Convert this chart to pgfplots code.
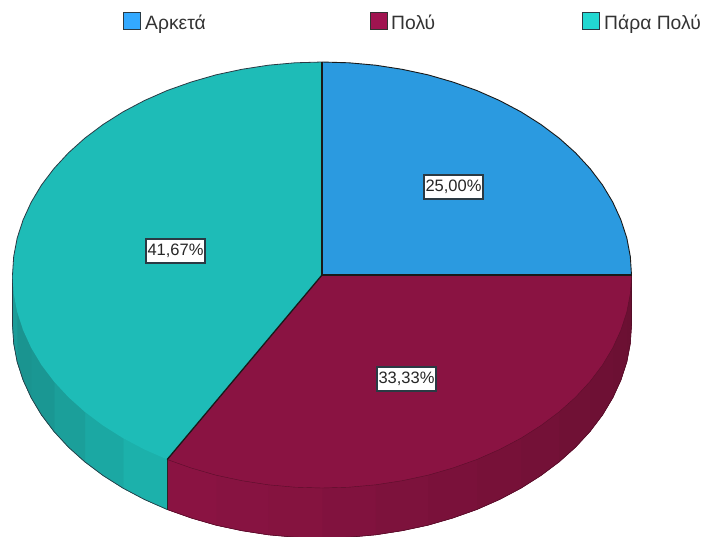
\documentclass[border=0pt]{standalone}
\usepackage{pgfplots}
\pgfplotsset{compat=1.18}
\usepackage{fontspec}
\setmainfont{Liberation Sans}
\definecolor{cblue}{HTML}{2B9AE0}
\definecolor{cmar}{HTML}{8A1342}
\definecolor{cteal}{HTML}{1EBCB7}
\definecolor{mardark}{HTML}{6A1032}
\definecolor{lblue}{HTML}{33A9FF}
\definecolor{lmar}{HTML}{A01450}
\definecolor{lteal}{HTML}{22D8D2}
\definecolor{edge}{HTML}{2A3A44}
\definecolor{t1}{HTML}{1CB1AB}
\definecolor{t2}{HTML}{1BA8A3}
\definecolor{t3}{HTML}{1B9F9A}
\definecolor{t4}{HTML}{1A9793}
\definecolor{t5}{HTML}{1A9490}
\definecolor{t6}{HTML}{1C9C98}
\pgfplotsset{band/.style={draw=#1,fill=#1,line width=0.5pt,forget plot,mark=none}}
\newcommand{\lab}[3]{\node[fill=white,draw=edge,line width=1.2pt,inner sep=0pt,minimum width=59pt,minimum height=24pt,font=\fontsize{16.5}{18}\selectfont,text=black!85] at (axis cs:#1,#2) {#3};}
\begin{document}
\begin{tikzpicture}[x=1pt,y=1pt]
\path[use as bounding box] (0,0) rectangle (704,536);
\begin{axis}[at={(0,0)},anchor=south west,width=704pt,height=536pt,scale only axis,
  xmin=0,xmax=704,ymin=0,ymax=536,y dir=reverse,hide axis,clip=true]
% underlays so that no seam shows between the bands
\addplot[fill=cmar!50!mardark,draw=none,forget plot] coordinates {(631.5,275)(631.5,325)(630.3,343.6)(626.8,362)(620.9,380.1)(612.8,397.8)(602.5,415)(590,431.5)(575.5,447.2)(559.1,461.9)(540.8,475.6)(520.9,488.2)(499.5,499.5)(476.8,509.5)(452.8,518)(427.9,525.2)(402.1,530.7)(375.7,534.8)(349,537.2)(322,538)(295,537.2)(268.3,534.8)(241.9,530.7)(216.1,525.2)(191.2,518)(167.2,509.5)(167.2,459.5)} --cycle;
\addplot[fill=t3,draw=none,forget plot] coordinates {(167.2,459.5)(167.2,509.5)(144.5,499.5)(123.1,488.2)(103.2,475.6)(84.9,461.9)(68.5,447.2)(54,431.5)(41.5,415)(31.2,397.8)(23.1,380.1)(17.2,362)(13.7,343.6)(12.5,325)(12.5,275)} --cycle;
% side bands, maroon
\addplot[band=mardark] coordinates {(631.5,275)(631.5,325)(630.3,343.6)(626.8,362)(626.8,312)};
\addplot[band=cmar!5!mardark] coordinates {(626.8,312)(626.8,362)(620.9,380.1)(612.8,397.8)(612.8,347.8)};
\addplot[band=cmar!12!mardark] coordinates {(612.8,347.8)(612.8,397.8)(602.5,415)(590,431.5)(590,381.5)};
\addplot[band=cmar!20!mardark] coordinates {(590,381.5)(590,431.5)(575.5,447.2)(559.1,461.9)(559.1,411.9)};
\addplot[band=cmar!30!mardark] coordinates {(559.1,411.9)(559.1,461.9)(540.8,475.6)(520.9,488.2)(520.9,438.2)};
\addplot[band=cmar!40!mardark] coordinates {(520.9,438.2)(520.9,488.2)(499.5,499.5)(476.8,509.5)(476.8,459.5)};
\addplot[band=cmar!50!mardark] coordinates {(476.8,459.5)(476.8,509.5)(452.8,518)(427.9,525.2)(427.9,475.2)};
\addplot[band=cmar!60!mardark] coordinates {(427.9,475.2)(427.9,525.2)(402.1,530.7)(375.7,534.8)(375.7,484.8)};
\addplot[band=cmar!72!mardark] coordinates {(375.7,484.8)(375.7,534.8)(349,537.2)(322,538)(322,488)};
\addplot[band=cmar!84!mardark] coordinates {(322,488)(322,538)(295,537.2)(268.3,534.8)(268.3,484.8)};
\addplot[band=cmar!92!mardark] coordinates {(268.3,484.8)(268.3,534.8)(241.9,530.7)(216.1,525.2)(216.1,475.2)};
\addplot[band=cmar] coordinates {(216.1,475.2)(216.1,525.2)(191.2,518)(167.2,509.5)(167.2,459.5)};
% side bands, teal
\addplot[band=t1] coordinates {(167.2,459.5)(167.2,509.5)(144.5,499.5)(123.1,488.2)(123.1,438.2)};
\addplot[band=t2] coordinates {(123.1,438.2)(123.1,488.2)(103.2,475.6)(84.9,461.9)(84.9,411.9)};
\addplot[band=t3] coordinates {(84.9,411.9)(84.9,461.9)(68.5,447.2)(54,431.5)(54,381.5)};
\addplot[band=t4] coordinates {(54,381.5)(54,431.5)(41.5,415)(31.2,397.8)(31.2,347.8)};
\addplot[band=t5] coordinates {(31.2,347.8)(31.2,397.8)(23.1,380.1)(17.2,362)(17.2,312)};
\addplot[band=t6] coordinates {(17.2,312)(17.2,362)(13.7,343.6)(12.5,325)(12.5,275)};
% lower outline
\addplot[draw=edge,line width=0.7pt,forget plot] coordinates {(12.5,275)(12.5,325)(13.7,343.6)(17.2,362)(23.1,380.1)(31.2,397.8)(41.5,415)(54,431.5)(68.5,447.2)(84.9,461.9)(103.2,475.6)(123.1,488.2)(144.5,499.5)(167.2,509.5)};
\addplot[draw=mardark!80!black,line width=0.6pt,forget plot] coordinates {(167.2,509.5)(191.2,518)(216.1,525.2)(241.9,530.7)(268.3,534.8)(295,537.2)(322,538)(349,537.2)(375.7,534.8)(402.1,530.7)(427.9,525.2)(452.8,518)(476.8,509.5)(499.5,499.5)(520.9,488.2)(540.8,475.6)(559.1,461.9)(575.5,447.2)(590,431.5)(602.5,415)(612.8,397.8)(620.9,380.1)(626.8,362)(630.3,343.6)(631.5,325)(631.5,275)};
\addplot[draw=black!85,line width=1.1pt,forget plot] coordinates {(167.2,459.5)(167.2,510)};
% top faces
\addplot[fill=cblue,draw=none,forget plot] coordinates {(322,275)(322,62)(349,62.8)(375.7,65.2)(402.1,69.3)(427.9,74.8)(452.8,82)(476.8,90.5)(499.5,100.5)(520.9,111.8)(540.8,124.4)(559.1,138.1)(575.5,152.8)(590,168.5)(602.5,185)(612.8,202.2)(620.9,219.9)(626.8,238)(630.3,256.4)(631.5,275)} --cycle;
\addplot[fill=cmar,draw=none,forget plot] coordinates {(322,275)(631.5,275)(630.3,293.6)(626.8,312)(620.9,330.1)(612.8,347.8)(602.5,365)(590,381.5)(575.5,397.2)(559.1,411.9)(540.8,425.6)(520.9,438.2)(499.5,449.5)(476.8,459.5)(452.8,468)(427.9,475.2)(402.1,480.7)(375.7,484.8)(349,487.2)(322,488)(295,487.2)(268.3,484.8)(241.9,480.7)(216.1,475.2)(191.2,468)(167.2,459.5)} --cycle;
\addplot[fill=cteal,draw=none,forget plot] coordinates {(322,275)(167.2,459.5)(144.5,449.5)(123.1,438.2)(103.2,425.6)(84.9,411.9)(68.5,397.2)(54,381.5)(41.5,365)(31.2,347.8)(23.1,330.1)(17.2,312)(13.7,293.6)(12.5,275)(13.7,256.4)(17.2,238)(23.1,219.9)(31.2,202.2)(41.5,185)(54,168.5)(68.5,152.8)(84.9,138.1)(103.2,124.4)(123.1,111.8)(144.5,100.5)(167.2,90.5)(191.2,82)(216.1,74.8)(241.9,69.3)(268.3,65.2)(295,62.8)(322,62)} --cycle;
% outlines
\addplot[draw=mardark!85!black,line width=0.4pt,forget plot] coordinates {(631.5,275)(630.3,293.6)(626.8,312)(620.9,330.1)(612.8,347.8)(602.5,365)(590,381.5)(575.5,397.2)(559.1,411.9)(540.8,425.6)(520.9,438.2)(499.5,449.5)(476.8,459.5)(452.8,468)(427.9,475.2)(402.1,480.7)(375.7,484.8)(349,487.2)(322,488)(295,487.2)(268.3,484.8)(241.9,480.7)(216.1,475.2)(191.2,468)(167.2,459.5)};
\addplot[draw=edge,line width=0.8pt,forget plot] coordinates {(12.5,275)(13.7,256.4)(17.2,238)(23.1,219.9)(31.2,202.2)(41.5,185)(54,168.5)(68.5,152.8)(84.9,138.1)(103.2,124.4)(123.1,111.8)(144.5,100.5)(167.2,90.5)(191.2,82)(216.1,74.8)(241.9,69.3)(268.3,65.2)(295,62.8)(322,62)};
\addplot[draw=black!90,line width=0.9pt,forget plot] coordinates {(322,62)(349,62.8)(375.7,65.2)(402.1,69.3)(427.9,74.8)(452.8,82)(476.8,90.5)(499.5,100.5)(520.9,111.8)(540.8,124.4)(559.1,138.1)(575.5,152.8)(590,168.5)(602.5,185)(612.8,202.2)(620.9,219.9)(626.8,238)(630.3,256.4)(631.5,275)};
\addplot[draw=black!90,line width=1.3pt,forget plot] coordinates {(322,62)(322,275)(631.5,275)};
\addplot[draw=black!90,line width=1.3pt,forget plot] coordinates {(322,275)(167.2,459.5)};
% legend swatches
\addplot[fill=lblue,draw=edge,line width=1pt,forget plot] coordinates {(123,12.5)(140,12.5)(140,29)(123,29)} --cycle;
\addplot[fill=lmar,draw=black!80,line width=1pt,forget plot] coordinates {(370,12.5)(387,12.5)(387,29)(370,29)} --cycle;
\addplot[fill=lteal,draw=edge,line width=1pt,forget plot] coordinates {(582,12.5)(599,12.5)(599,29)(582,29)} --cycle;
\node[anchor=base west,inner sep=0pt,font=\fontsize{19.3}{22}\selectfont,text=black!80] at (axis cs:145,29.5) {Αρκετά};
\node[anchor=base west,inner sep=0pt,font=\fontsize{19.3}{22}\selectfont,text=black!80] at (axis cs:391,29.5) {Πολύ};
\node[anchor=base west,inner sep=0pt,font=\fontsize{19.3}{22}\selectfont,text=black!80] at (axis cs:604,29.5) {Πάρα Πολύ};
\lab{453.5}{187}{25,00\%}
\lab{406.5}{379}{33,33\%}
\lab{175.5}{251}{41,67\%}
\end{axis}
\end{tikzpicture}
\end{document}
